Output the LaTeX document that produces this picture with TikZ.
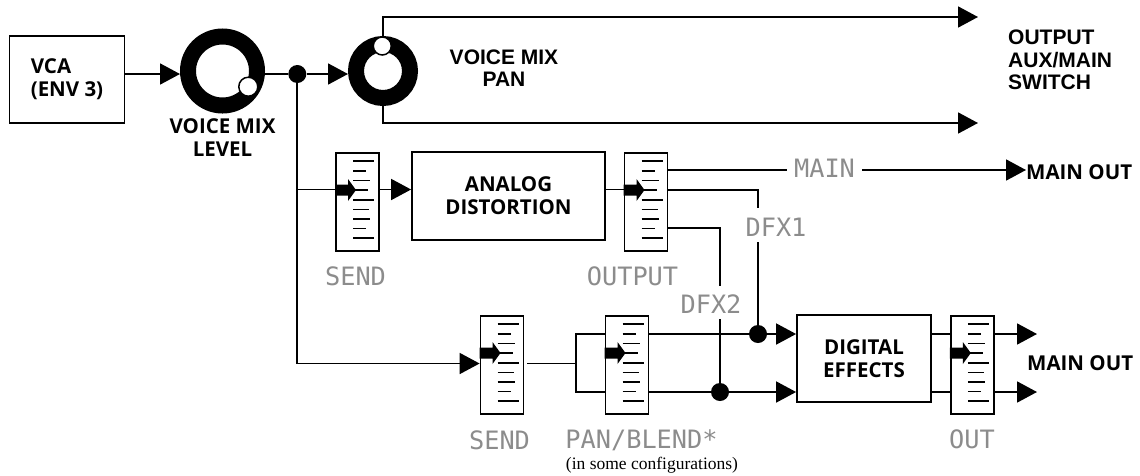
\documentclass[tikz,border=0pt]{standalone}
\usepackage{fontspec}
\setmainfont{Open Sans}
\newfontfamily\hvfont{Liberation Sans}
\newfontfamily\lcdfont{DejaVu Sans Mono}
\newfontfamily\notefont{Liberation Serif}
\usetikzlibrary{arrows.meta,positioning,calc}
\tikzset{
  sig/.style={line width=1.8pt},
  sigarrow/.style={sig,-{Triangle[length=20pt,width=21pt]}},
  blockbox/.style={draw,line width=1.8pt,align=left,font=\fontsize{20.5}{23}\selectfont\bfseries,inner sep=0pt},
  sliderframe/.style={draw,line width=1.8pt,fill=white,minimum width=43pt,minimum height=98pt,inner sep=0pt},
  knobring/.style={circle,draw,inner sep=0pt,line width=16pt},
  knobmark/.style={circle,draw,fill=white,line width=1.5pt,minimum size=19pt,inner sep=0pt},
  junction/.style={circle,fill=black,minimum size=18pt,inner sep=0pt},
  boldlabel/.style={font=\fontsize{20.5}{23}\selectfont\bfseries,align=center,inner sep=0pt},
  hvlabel/.style={font=\hvfont\fontsize{21}{22.5}\selectfont\bfseries,inner sep=0pt},
  lcdlabel/.style={font=\lcdfont\fontsize{25.3}{27}\selectfont,text=black!45,inner sep=0pt},
}
% slider: name, centre x, top y
\newcommand{\sliderbox}[3]{%
  \begin{scope}[shift={(#2,#3)}]
    \node[sliderframe,anchor=north] (#1) at (0,0) {};
    \foreach \ty/\tl in {9/21,19/13,28.5/17,38/15,48/21,57.5/16,67/17,76.5/13,86/21}
      \draw[line width=1.5pt] (-4.5,\ty) -- (-4.5+\tl,\ty);
    \fill (-22.5,32.5) -- (-9.5,32.5) -- (-9.5,27) -- (-1.5,38) -- (-9.5,49) -- (-9.5,43.5) -- (-22.5,43.5) -- cycle;
  \end{scope}}

\begin{document}
\begin{tikzpicture}[x=1pt,y=-1pt]
\useasboundingbox (0,0) rectangle (1140,475);

% top row
\node[blockbox,minimum width=115pt,minimum height=87pt] (vca) at (67,79.5) {VCA\\(ENV 3)};
\node[knobring,minimum size=69pt] (levelknob) at (222.5,71) {};
\node[knobmark] (levelmark) at (248.3,86.7) {};
\node[boldlabel] (levellabel) at (222.5,138) {VOICE MIX\\LEVEL};
\node[junction] (mixdot) at (297.3,74) {};
\node[knobring,minimum size=54pt] (panknob) at (383,71) {};
\node[knobmark,minimum size=18pt] (panmark) at (382.3,46) {};
\node[hvlabel,align=center] (panlabel) at (504,68) {VOICE MIX\\PAN};
\node[hvlabel,align=left,anchor=west] (switchlabel) at (1008,60) {OUTPUT\\AUX/MAIN\\SWITCH};
\coordinate (toptip) at (978,17);
\coordinate (bottip) at (978,123);
\draw[sigarrow] (vca.east |- mixdot) -- (levelknob.west |- mixdot);
\draw[sig] (levelknob.east |- mixdot) -- (mixdot);
\draw[sigarrow] (mixdot) -- (panknob.west |- mixdot);
\draw[sigarrow] (panknob.north) |- (toptip);
\draw[sigarrow] (panknob.south) |- (bottip);

% analog distortion row
\sliderbox{sendslider}{357.5}{152}
\node[blockbox,minimum width=193pt,minimum height=88pt,align=center] (analog) at (508.5,196) {ANALOG\\DISTORTION};
\sliderbox{outputslider}{646}{152}
\node[lcdlabel] (sendlabel) at (355.5,276) {SEND};
\node[lcdlabel] (outputlabel) at (632.5,276) {OUTPUT};
\node[lcdlabel,inner xsep=7pt] (mainlabel) at (824.5,168) {MAIN};
\node[boldlabel,anchor=west] (mainout) at (1026,172) {MAIN OUT};
\node[lcdlabel] (dfxa) at (776,227) {DFX1};
\node[lcdlabel] (dfxb) at (711,304) {DFX2};
\coordinate (sendtap) at (297.3,189.5);
\coordinate (outa) at (667.5,170);
\coordinate (outb) at (667.5,190);
\coordinate (outc) at (667.5,228);
\coordinate (dfxatop) at (758,208);
\coordinate (dfxabot) at (758,242);
\coordinate (dfxbtop) at (720,286);
\coordinate (dfxbbot) at (720,319);
\draw[sig] (sendtap) -- (sendslider.west |- sendtap);
\draw[sigarrow] (sendslider.east |- sendtap) -- (analog.west |- sendtap);
\draw[sig] (analog.east |- sendtap) -- (outputslider.west |- sendtap);
\draw[sig] (outa) -- (mainlabel.west |- outa);
\draw[sigarrow] (mainlabel.east |- outa) -- (mainout.west |- outa);
\draw[sig] (outb) -| (dfxatop);
\draw[sig,line width=2pt] (outc) -| (dfxbtop);

% digital effects row
\sliderbox{sendbslider}{502}{315}
\sliderbox{panslider}{627}{315}
\node[blockbox,minimum width=134pt,minimum height=87pt,align=center] (digital) at (864,358.5) {DIGITAL\\EFFECTS};
\sliderbox{outslider}{972.3}{315}
\node[junction] (dota) at (758,334) {};
\node[junction] (dotb) at (720,392) {};
\node[lcdlabel] (sendblabel) at (499.5,440) {SEND};
\node[lcdlabel] (panlabelb) at (641.5,440) {PAN/BLEND*};
\node[font=\notefont\fontsize{17.5}{18}\selectfont,inner sep=0pt] (panote) at (652,465) {(in some configurations)};
\node[lcdlabel] (outlabel) at (972,439) {OUT};
\node[boldlabel,anchor=west] (mainoutb) at (1027,363) {MAIN OUT};
\coordinate (splitpt) at (576,363.5);
\coordinate (outtipa) at (1037,334);
\coordinate (outtipb) at (1037,392);
\draw[sigarrow] (mixdot) |- (sendbslider.west |- splitpt);
\draw[sig] ([xshift=3pt]sendbslider.east |- splitpt) -- (splitpt);
\draw[sig] (panslider.west |- dota) -| (splitpt);
\draw[sig] (panslider.west |- dotb) -| (splitpt);
\draw[sig] (panslider.east |- dota) -- (dota);
\draw[sig] (panslider.east |- dotb) -- (dotb);
\draw[sigarrow] (dota) -- (digital.west |- dota);
\draw[sigarrow] (dotb) -- (digital.west |- dotb);
\draw[sig] (digital.east |- dota) -- (outslider.west |- dota);
\draw[sig] (digital.east |- dotb) -- (outslider.west |- dotb);
\draw[sigarrow] (outslider.east |- dota) -- (outtipa);
\draw[sigarrow] (outslider.east |- dotb) -- (outtipb);
\draw[sig] (dfxabot) -- (dota);
\draw[sig,line width=2pt] (dfxbbot) -- (dotb);
\end{tikzpicture}
\end{document}
